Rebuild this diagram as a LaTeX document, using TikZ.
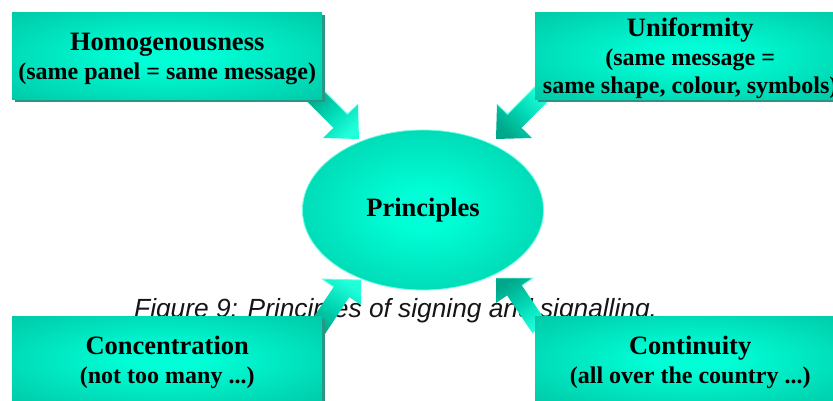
\documentclass[tikz,border=0pt]{standalone}
\usepackage{fontspec}
\setmainfont{Liberation Serif}
\newfontfamily\capfont{Liberation Sans}
\usetikzlibrary{shapes.geometric,shadows}
\definecolor{tealdark}{HTML}{00B697}
\definecolor{tealbright}{HTML}{00FFD6}
\definecolor{tealshadow}{HTML}{2E9482}
\definecolor{teallight}{HTML}{6FFFE4}
\definecolor{arrdark}{HTML}{00A88B}
\definecolor{arrmid}{HTML}{00D8B4}
\definecolor{arrbright}{HTML}{20FFDA}
\definecolor{captext}{HTML}{151515}
\pgfdeclareradialshading{glow}{\pgfpoint{0bp}{0bp}}{color(0bp)=(tealbright); color(6bp)=(tealbright); color(46bp)=(tealdark); color(100bp)=(tealdark)}
\begin{document}
\begin{tikzpicture}[x=1pt,y=-1pt,
  box/.style={shading=glow, anchor=north west, minimum width=310pt, minimum height=87pt,
    inner sep=0pt, align=center, text=black,
    font=\bfseries\fontsize{24}{28.5}\selectfont,
    general shadow={fill=tealshadow, shadow xshift=3pt, shadow yshift=-3pt}},
  hd/.style={},
  oval/.style={ellipse, shading=glow, draw=teallight, line width=0.8pt,
    minimum width=241pt, minimum height=160pt, inner sep=0pt,
    font=\bfseries\fontsize{26.5}{28.5}\selectfont},
  blockarrow/.style={left color=arrdark, right color=arrbright, middle color=arrmid},
  arrowedge/.style={draw=teallight, line width=0.9pt, line join=round},
  caption/.style={font=\capfont\itshape\fontsize{26.3}{30}\selectfont, text=captext, inner sep=0pt}]
\newcommand{\hdline}[1]{\rule{0pt}{24pt}{\fontsize{26.5}{28.5}\selectfont #1}}
\useasboundingbox (0,0) rectangle (833,401);
\clip (0,0) rectangle (833,401);

% caption (behind everything)
\node[caption, anchor=base west] (cap) at (134,317) {Figure 9: Principles of signing and signalling.};

% central ellipse
\node[oval] (prin) at (423,210) {Principles};

% arrow geometry
\coordinate (tlT) at (359,139);   \coordinate (tlA) at (323,138);   \coordinate (tlB) at (358,104);
\coordinate (tlNA) at (333.5,127.8); \coordinate (tlNB) at (347.5,114.2);
\coordinate (tlTA) at (305.2,99.5); \coordinate (tlTB) at (319.2,85.9);

\coordinate (trT) at (496,139);   \coordinate (trA) at (532,138);   \coordinate (trB) at (497,104);
\coordinate (trNA) at (521.5,127.8); \coordinate (trNB) at (507.5,114.2);
\coordinate (trTA) at (549.8,99.5); \coordinate (trTB) at (535.8,85.9);

\coordinate (blT) at (361,280);   \coordinate (blA) at (322,279);   \coordinate (blB) at (361,305);
\coordinate (blNA) at (333.7,286.8); \coordinate (blNB) at (349.3,297.2);
\coordinate (blTA) at (309,324.2); \coordinate (blTB) at (324.6,334.6);

\coordinate (brT) at (496,278);   \coordinate (brA) at (533,278);   \coordinate (brB) at (496,303);
\coordinate (brNA) at (521.9,285.5); \coordinate (brNB) at (507.1,295.5);
\coordinate (brTA) at (547.1,322.9); \coordinate (brTB) at (532.3,332.9);

% block arrows
\shade[blockarrow, shading angle=45] (tlT) -- (tlA) -- (tlNA) -- (tlTA) -- (tlTB) -- (tlNB) -- (tlB) -- cycle;
\draw[arrowedge] (tlTB) -- (tlNB) -- (tlB);
\shade[blockarrow, shading angle=135] (trT) -- (trA) -- (trNA) -- (trTA) -- (trTB) -- (trNB) -- (trB) -- cycle;
\draw[arrowedge] (trTB) -- (trNB) -- (trB);
\shade[blockarrow, shading angle=146] (blT) -- (blA) -- (blNA) -- (blTA) -- (blTB) -- (blNB) -- (blB) -- cycle;
\draw[arrowedge] (blNA) -- (blA) -- (blT);
\shade[blockarrow, shading angle=34] (brT) -- (brA) -- (brNA) -- (brTA) -- (brTB) -- (brNB) -- (brB) -- cycle;
\draw[arrowedge] (brNA) -- (brA) -- (brT);

% boxes
\node[box] (homo) at (12,12) {\hdline{Homogenousness}\\(same panel = same message)};
\node[box] (unif) at (535,12) {\hdline{Uniformity}\\(same message =\\same shape, colour, symbols)};
\node[box] (conc) at (12,316) {\hdline{Concentration}\\(not too many ...)};
\node[box] (cont) at (535,316) {\hdline{Continuity}\\(all over the country ...)};
\end{tikzpicture}
\end{document}
